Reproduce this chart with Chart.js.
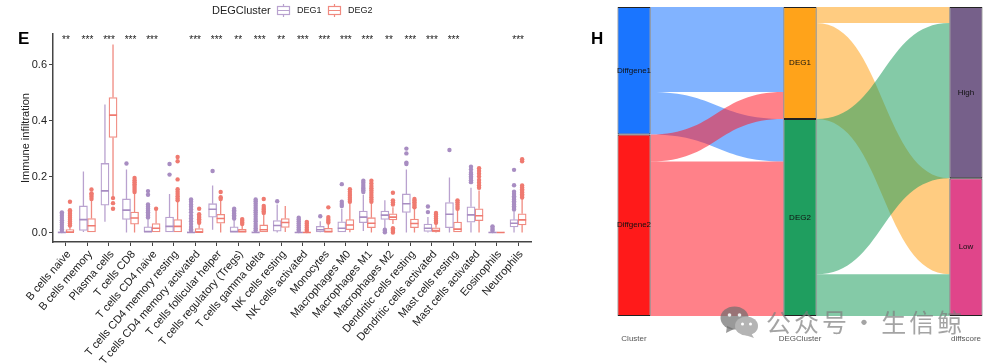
<!DOCTYPE html>
<html>
<head>
<meta charset="utf-8">
<script src="https://cdn.jsdelivr.net/npm/chart.js@4"></script>
<style>
html, body { margin: 0; padding: 0; background: #fff; }
#page { position: relative; width: 996px; height: 363px; overflow: hidden; font-family: "Liberation Sans", Arial, sans-serif; }
canvas { position: absolute; top: 0; }
.panel { position: absolute; font-size: 17px; font-weight: bold; color: #000; line-height: 17px; }
#marca { position: absolute; left: 766px; top: 303px; font-family: "Noto Sans CJK SC"; font-size: 25px; letter-spacing: 3px; word-spacing: -7px; color: rgba(125,125,125,.7); white-space: pre; }
#logo { position: absolute; left: 718px; top: 305px; }
</style>
</head>
<body>
<div id="page">
    <canvas id="chartE" width="560" height="363" style="left:0"></canvas>
    <canvas id="chartH" width="436" height="363" style="left:560px"></canvas>
    <div class="panel" style="left:18px;top:30px">E</div>
    <div class="panel" style="left:591px;top:30px">H</div>
    <svg id="logo" width="44" height="34">
        <ellipse cx="16.5" cy="13" rx="14" ry="11.5" fill="rgba(110,110,110,.7)"/>
        <path d="M9 21 L8 28 L16 24 Z" fill="rgba(110,110,110,.7)"/>
        <ellipse cx="28.5" cy="21" rx="11.5" ry="9.5" fill="#b4b4b4"/>
        <path d="M33 28 L36 33 L27 30 Z" fill="#b4b4b4"/>
        <circle cx="11.5" cy="10" r="1.8" fill="#eee"/><circle cx="21.5" cy="10" r="1.8" fill="#eee"/>
        <circle cx="24.5" cy="19" r="1.5" fill="#fff"/><circle cx="32.5" cy="19" r="1.5" fill="#fff"/>
    </svg>
    <div id="marca">公众号 · 生信鲸</div>
</div>

<script>
// panel E - boxplot de infiltracion
var cells = ['B cells naive', 'B cells memory', 'Plasma cells', 'T cells CD8', 'T cells CD4 naive',
    'T cells CD4 memory resting', 'T cells CD4 memory activated', 'T cells follicular helper',
    'T cells regulatory (Tregs)', 'T cells gamma delta', 'NK cells resting', 'NK cells activated',
    'Monocytes', 'Macrophages M0', 'Macrophages M1', 'Macrophages M2', 'Dendritic cells resting',
    'Dendritic cells activated', 'Mast cells resting', 'Mast cells activated', 'Eosinophils', 'Neutrophils'];
var stars = ['**', '***', '***', '***', '***', '', '***', '***', '**', '***', '**', '***',
    '***', '***', '***', '**', '***', '***', '***', '', '', '***'];
var yTicks = [0, 0.2, 0.4, 0.6];

var deg1Lo = [0, 0.002, 0.038, 0, 0, 0, 0, 0.01, 0, 0, 0, 0, 0.001, 0, 0.005, 0.015, 0, 0, 0, 0, 0, 0];
var deg1Q1 = [0, 0.007, 0.098, 0.047, 0, 0, 0, 0.055, 0, 0, 0.005, 0, 0.002, 0, 0.035, 0.047, 0.072, 0.004, 0.017, 0.037, 0, 0.02];
var deg1Med = [0, 0.046, 0.149, 0.08, 0.003, 0.022, 0, 0.083, 0.003, 0, 0.025, 0, 0.01, 0.015, 0.055, 0.062, 0.103, 0.015, 0.065, 0.063, 0, 0.033];
var deg1Q3 = [0.002, 0.095, 0.247, 0.12, 0.02, 0.055, 0.002, 0.103, 0.02, 0.002, 0.043, 0.001, 0.022, 0.038, 0.077, 0.077, 0.138, 0.03, 0.107, 0.092, 0.001, 0.046];
var deg1Hi = [0.003, 0.218, 0.458, 0.225, 0.05, 0.138, 0.004, 0.168, 0.045, 0.005, 0.1, 0.002, 0.04, 0.085, 0.135, 0.115, 0.225, 0.055, 0.197, 0.16, 0.002, 0.075];
var deg1Out = [
    [0.005, 0.012, 0.02, 0.028, 0.036, 0.044, 0.052, 0.06, 0.067, 0.072],
    [], [],
    [0.247],
    [0.054, 0.06, 0.066, 0.072, 0.078, 0.085, 0.092, 0.1, 0.135, 0.148],
    [0.207, 0.245],
    [0.006, 0.012, 0.02, 0.03, 0.04, 0.05, 0.06, 0.072, 0.082, 0.092, 0.1, 0.11, 0.118],
    [0.22],
    [0.05, 0.056, 0.062, 0.068, 0.074, 0.08, 0.085],
    [0.008, 0.015, 0.023, 0.031, 0.04, 0.048, 0.056, 0.064, 0.072, 0.08, 0.088, 0.096, 0.104, 0.112, 0.118],
    [0.112],
    [0.005, 0.012, 0.019, 0.026, 0.033, 0.04, 0.047, 0.053],
    [0.058],
    [0.095, 0.102, 0.11, 0.173],
    [0.145, 0.151, 0.157, 0.163, 0.17, 0.178, 0.185],
    [0.001, 0.006, 0.01],
    [0.245, 0.25, 0.283, 0.3],
    [0.073, 0.093],
    [0.295],
    [0.18, 0.187, 0.195, 0.2, 0.208, 0.214, 0.225, 0.235],
    [0.005, 0.01, 0.016, 0.022],
    [0.082, 0.088, 0.094, 0.1, 0.106, 0.112, 0.118, 0.124, 0.13, 0.138, 0.146, 0.169, 0.224]
];

var deg2Lo = [0, 0, 0.127, 0, 0, 0, 0, 0, 0, 0, 0.002, 0, 0, 0.001, 0, 0.03, 0, 0, 0, 0, 0, 0];
var deg2Q1 = [0, 0, 0.34, 0.03, 0, 0, 0, 0.033, 0, 0, 0.018, 0, 0, 0.01, 0.017, 0.045, 0.017, 0.002, 0, 0.042, 0, 0.027];
var deg2Med = [0.001, 0.024, 0.42, 0.052, 0.015, 0.022, 0.001, 0.05, 0.003, 0.01, 0.036, 0, 0.003, 0.027, 0.033, 0.055, 0.032, 0.007, 0.012, 0.06, 0, 0.045];
var deg2Q3 = [0.01, 0.05, 0.483, 0.073, 0.032, 0.046, 0.014, 0.065, 0.011, 0.027, 0.05, 0.001, 0.015, 0.046, 0.053, 0.067, 0.048, 0.017, 0.037, 0.085, 0.001, 0.067];
var deg2Hi = [0.022, 0.115, 0.672, 0.14, 0.08, 0.11, 0.03, 0.115, 0.025, 0.065, 0.095, 0.002, 0.033, 0.105, 0.105, 0.09, 0.085, 0.03, 0.08, 0.15, 0.002, 0.12];
var deg2Out = [
    [0.025, 0.032, 0.039, 0.046, 0.053, 0.06, 0.067, 0.074, 0.08, 0.11],
    [0.12, 0.128, 0.135, 0.14, 0.154],
    [0.085, 0.105, 0.123],
    [0.145, 0.152, 0.159, 0.166, 0.173, 0.18, 0.187, 0.195],
    [0.085],
    [0.115, 0.122, 0.13, 0.138, 0.146, 0.155, 0.19, 0.255, 0.27],
    [0.035, 0.041, 0.047, 0.053, 0.059, 0.065, 0.085],
    [0.12, 0.126, 0.145],
    [0.03, 0.036, 0.042, 0.048],
    [0.07, 0.076, 0.082, 0.088, 0.095, 0.12],
    [],
    [0.005, 0.011, 0.018, 0.025, 0.032, 0.038],
    [0.036, 0.042, 0.048, 0.055, 0.09],
    [0.11, 0.117, 0.124, 0.131, 0.138, 0.146, 0.155],
    [0.11, 0.118, 0.126, 0.134, 0.142, 0.15, 0.158, 0.166, 0.175, 0.185],
    [0, 0.005, 0.01, 0.015, 0.1, 0.108, 0.115, 0.142],
    [0.09, 0.096, 0.102, 0.108, 0.114, 0.12],
    [0.035, 0.042, 0.05, 0.057, 0.064, 0.07],
    [0.085, 0.092, 0.1, 0.108, 0.115],
    [0.16, 0.168, 0.178, 0.188, 0.2, 0.21, 0.22, 0.23],
    [],
    [0.125, 0.131, 0.137, 0.143, 0.149, 0.155, 0.161, 0.168, 0.255, 0.262]
];

// panel H - flujos entre columnas
var clusterNames = ['Diffgene1', 'Diffgene2'];
var degNames = ['DEG1', 'DEG2'];
var scoreNames = ['High', 'Low'];
var columnNames = ['Cluster', 'DEGCluster', 'diffscore'];
var clusterToDeg = [[85, 42.5], [27, 154.5]];
var degToScore = [[16, 96], [155.3, 41.7]];

var COLOR1 = '#a88dc2';
var COLOR2 = '#ef7a70';
var LINE1 = '#b9a2cf';
var LINE2 = '#f08a80';
var DODGE = 0.1875;
var TEXTO = '#222';
var FUENTE = '"Liberation Sans", Arial, sans-serif';

function whiskers(lo, q1, q3, hi, dx) {
    var pts = [];
    lo.forEach(function (v, i) {
        pts.push({x: i + dx, y: v}, {x: i + dx, y: q1[i]}, {x: i + dx, y: null});
        pts.push({x: i + dx, y: q3[i]}, {x: i + dx, y: hi[i]}, {x: i + dx, y: null});
    });
    return pts;
}

function medians(med, dx) {
    var pts = [];
    med.forEach(function (v, i) {
        pts.push({x: i + dx - DODGE, y: v}, {x: i + dx + DODGE, y: v}, {x: i + dx, y: null});
    });
    return pts;
}

function outliers(lista, dx) {
    var pts = [];
    lista.forEach(function (vals, i) {
        vals.forEach(function (v) {
            pts.push({x: i + dx, y: v});
        });
    });
    return pts;
}

function serie(nombre, lo, q1, med, q3, hi, out, dx, color, linea) {
    return [{
            type: 'bar', label: nombre,
            data: q1.map(function (v, i) { return {x: i + dx, y: [v, q3[i]]}; }),
            grouped: false, barPercentage: 1, categoryPercentage: 1,
            backgroundColor: '#fff', borderColor: linea, borderWidth: 1.3, borderSkipped: false, order: 3
        }, {
            showLine: true, data: whiskers(lo, q1, q3, hi, dx), borderColor: linea, borderWidth: 1.3,
            pointRadius: 0, spanGaps: false, order: 2
        }, {
            showLine: true, data: medians(med, dx), borderColor: color, borderWidth: 1.6,
            pointRadius: 0, spanGaps: false, order: 1
        }, {
            data: outliers(out, dx), backgroundColor: color, borderColor: color, pointRadius: 2.2, borderWidth: 0, order: 0
        }];
}

// estrellas y leyenda de arriba
var pluginE = {
    id: 'pluginE',
    afterDraw: function (chart) {
        var c = chart.ctx, x = chart.scales.x;
        c.save();
        c.fillStyle = TEXTO;
        c.textAlign = 'center';
        c.textBaseline = 'middle';
        c.font = '10px ' + FUENTE;
        stars.forEach(function (s, i) {
            if (s) c.fillText(s, x.getPixelForValue(i), 40);
        });
        c.textAlign = 'left';
        c.font = '11px ' + FUENTE;
        c.fillText('DEGCluster', 212, 10.5);
        c.font = '9px ' + FUENTE;
        leyenda(c, 277, LINE1, 'DEG1', 297);
        leyenda(c, 328, LINE2, 'DEG2', 348);
        c.restore();
    }
};

function leyenda(c, x, color, texto, xt) {
    c.strokeStyle = color;
    c.lineWidth = 1.2;
    c.strokeRect(x + 0.5, 6.5, 12, 8);
    c.beginPath();
    c.moveTo(x + 0.5, 10.5); c.lineTo(x + 12.5, 10.5);
    c.moveTo(x + 6.5, 4); c.lineTo(x + 6.5, 6.5);
    c.moveTo(x + 6.5, 14.5); c.lineTo(x + 6.5, 17);
    c.stroke();
    c.fillStyle = TEXTO;
    c.fillText(texto, xt, 10.5);
}

new Chart(document.getElementById('chartE').getContext('2d'), {
    type: 'scatter',
    data: {
        datasets: serie('DEG1', deg1Lo, deg1Q1, deg1Med, deg1Q3, deg1Hi, deg1Out, -DODGE, COLOR1, LINE1)
                .concat(serie('DEG2', deg2Lo, deg2Q1, deg2Med, deg2Q3, deg2Hi, deg2Out, DODGE, COLOR2, LINE2))
    },
    options: {
        responsive: false,
        animation: false,
        layout: {padding: {top: 34, right: 29, left: 19, bottom: 0}},
        plugins: {legend: {display: false}, tooltip: {enabled: false}},
        scales: {
            x: {
                type: 'linear', min: -0.6, max: 21.6, offset: false,
                afterBuildTicks: function (axis) {
                    axis.ticks = cells.map(function (c, i) { return {value: i}; });
                },
                afterFit: function (axis) { axis.height = 121; },
                grid: {offset: false, drawOnChartArea: false, drawTicks: true, tickLength: 4, color: '#444', lineWidth: 1},
                border: {color: '#444', width: 1.5},
                ticks: {
                    autoSkip: false, minRotation: 49, maxRotation: 49, padding: 2, labelOffset: 3, color: TEXTO,
                    font: {family: FUENTE, size: 11},
                    callback: function (v) { return cells[v]; }
                }
            },
            y: {
                min: -0.034, max: 0.71,
                afterBuildTicks: function (axis) {
                    axis.ticks = yTicks.map(function (v) { return {value: v}; });
                },
                afterFit: function (axis) { axis.width = 34; },
                title: {display: true, text: 'Immune infiltration', color: TEXTO, font: {family: FUENTE, size: 11}, padding: {top: 0, bottom: 2}},
                grid: {drawOnChartArea: false, drawTicks: true, tickLength: 4, color: '#444', lineWidth: 1},
                border: {color: '#444', width: 1.5},
                ticks: {
                    padding: 2, color: TEXTO, font: {family: FUENTE, size: 11},
                    callback: function (v) { return v.toFixed(1); }
                }
            }
        }
    },
    plugins: [pluginE]
});

// panel H
var NODE_W = 0.1;
var nodeColors = [['#1a75ff', '#ff1a1a'], ['#ffa31a', '#1f9e5f'], ['#76608a', '#e0458a']];
var flowColors = [['rgba(26,117,255,.55)', 'rgba(255,26,40,.55)'], ['rgba(255,163,26,.55)', 'rgba(31,158,95,.55)']];

function suma(a) {
    return a.reduce(function (t, v) { return t + v; }, 0);
}

// totales de cada nodo salen de las matrices de flujo
var clusterTotals = clusterToDeg.map(suma);
var degTotals = clusterToDeg[0].map(function (v, j) { return v + clusterToDeg[1][j]; });
var scoreTotals = degToScore[0].map(function (v, j) { return v + degToScore[1][j]; });
var allTotals = [clusterTotals, degTotals, scoreTotals];
var allNames = [clusterNames, degNames, scoreNames];

function nodeBars() {
    var pts = [], colores = [];
    allTotals.forEach(function (tot, col) {
        var acc = 0;
        tot.forEach(function (v, k) {
            pts.push({x: col, y: [acc, acc + v]});
            colores.push(nodeColors[col][k]);
            acc += v;
        });
    });
    return {pts: pts, colores: colores};
}

function dibujarFlujos(chart, matriz, col, colores) {
    var c = chart.ctx, sx = chart.scales.x, sy = chart.scales.y;
    var x0 = sx.getPixelForValue(col + NODE_W), x1 = sx.getPixelForValue(col + 1 - NODE_W);
    var xm = (x0 + x1) / 2;
    var n = matriz.length, m = matriz[0].length;
    var left = 0;
    for (var i = 0; i < n; i++) {
        for (var j = 0; j < m; j++) {
            // posicion a la derecha: todo lo anterior en destino j, mas flujos previos
            var right = 0;
            for (var jj = 0; jj < j; jj++) for (var ii = 0; ii < n; ii++) right += matriz[ii][jj];
            for (var i2 = 0; i2 < i; i2++) right += matriz[i2][j];
            var v = matriz[i][j];
            var a0 = sy.getPixelForValue(left), a1 = sy.getPixelForValue(left + v);
            var b0 = sy.getPixelForValue(right), b1 = sy.getPixelForValue(right + v);
            c.fillStyle = colores[i];
            c.beginPath();
            c.moveTo(x0, a0);
            c.bezierCurveTo(xm, a0, xm, b0, x1, b0);
            c.lineTo(x1, b1);
            c.bezierCurveTo(xm, b1, xm, a1, x0, a1);
            c.closePath();
            c.fill();
            left += v;
        }
    }
}

var pluginH = {
    id: 'pluginH',
    beforeDatasetsDraw: function (chart) {
        chart.ctx.save();
        dibujarFlujos(chart, clusterToDeg, 0, flowColors[0]);
        dibujarFlujos(chart, degToScore, 1, flowColors[1]);
        chart.ctx.restore();
    },
    afterDatasetsDraw: function (chart) {
        var c = chart.ctx, sx = chart.scales.x, sy = chart.scales.y;
        c.save();
        c.fillStyle = '#111';
        c.font = '8px ' + FUENTE;
        c.textAlign = 'center';
        c.textBaseline = 'middle';
        allTotals.forEach(function (tot, col) {
            var acc = 0;
            tot.forEach(function (v, k) {
                c.fillText(allNames[col][k], sx.getPixelForValue(col), sy.getPixelForValue(acc + v / 2));
                acc += v;
            });
        });
        c.restore();
    }
};

var nodos = nodeBars();
var totalH = suma(clusterTotals);

new Chart(document.getElementById('chartH').getContext('2d'), {
    type: 'scatter',
    data: {
        datasets: [{
                type: 'bar', data: nodos.pts, grouped: false, barPercentage: 0.2, categoryPercentage: 1,
                backgroundColor: nodos.colores, borderColor: '#222', borderWidth: 1, borderSkipped: false
            }]
    },
    options: {
        responsive: false,
        animation: false,
        layout: {padding: {top: 7, right: 13.4, left: 57.4, bottom: 0}},
        plugins: {legend: {display: false}, tooltip: {enabled: false}},
        scales: {
            x: {
                type: 'linear', min: -0.1, max: 2.1, offset: false,
                afterBuildTicks: function (axis) {
                    axis.ticks = columnNames.map(function (c, i) { return {value: i}; });
                },
                afterFit: function (axis) { axis.height = 47; },
                grid: {offset: false, drawOnChartArea: false, drawTicks: true, tickLength: 18, color: 'rgba(0,0,0,0)'},
                border: {display: false},
                ticks: {
                    padding: 0, color: '#555', maxRotation: 0, autoSkip: false,
                    font: {family: FUENTE, size: 8},
                    callback: function (v) { return columnNames[v]; }
                }
            },
            y: {display: false, reverse: true, min: 0, max: totalH}
        }
    },
    plugins: [pluginH]
});
</script>
</body>
</html>
